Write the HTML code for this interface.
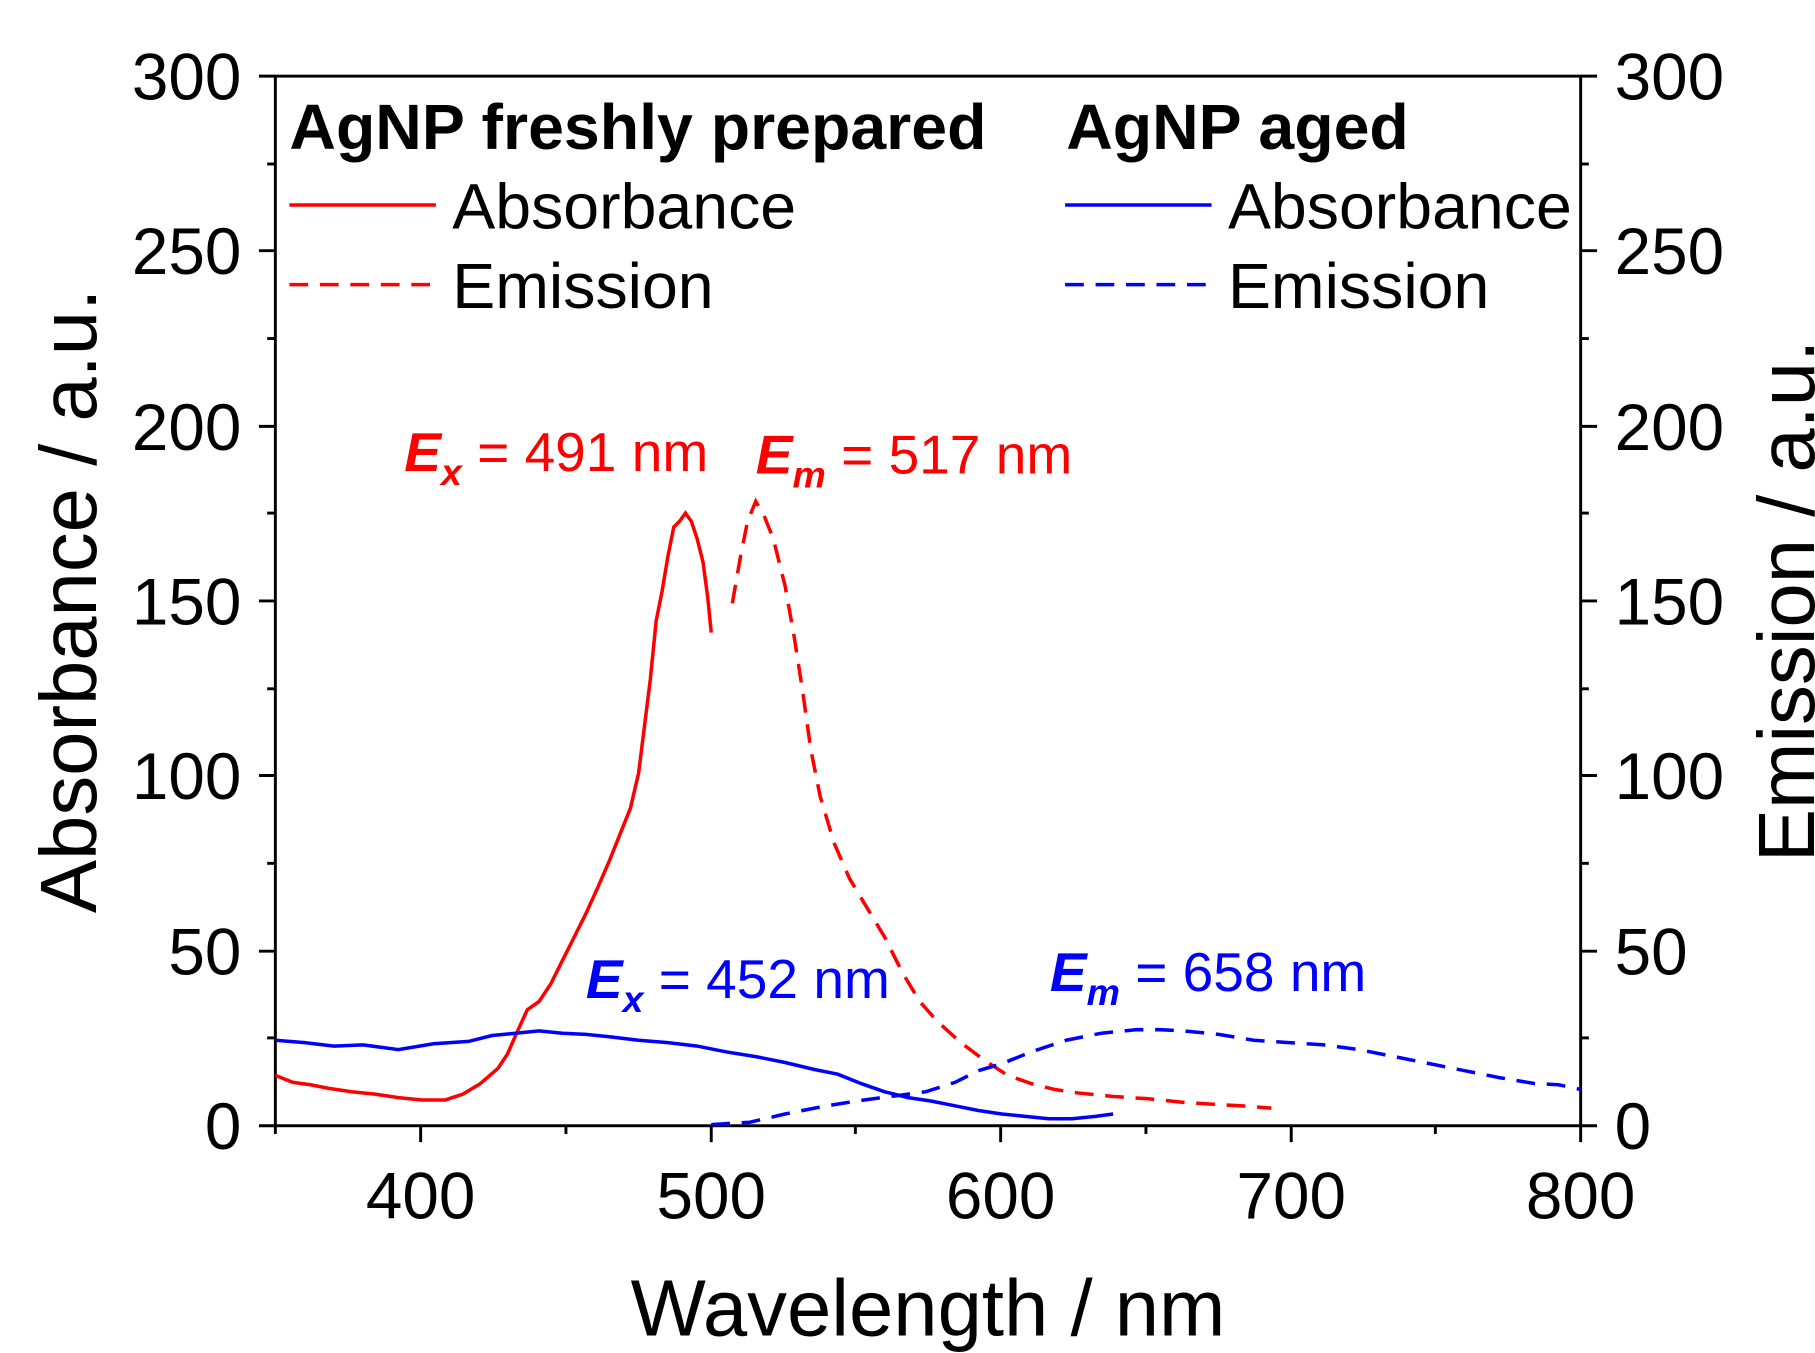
<!DOCTYPE html>
<html><head><meta charset="utf-8"><style>
html,body{margin:0;padding:0;background:#fff;}
svg{display:block;}
text{font-family:"Liberation Sans",Arial,sans-serif;}
</style></head><body>
<svg width="1815" height="1353" viewBox="0 0 1549 1155" preserveAspectRatio="none" xmlns="http://www.w3.org/2000/svg">
<rect width="1549" height="1155" fill="#fff"/>
<rect x="235" y="65" width="1114" height="896" fill="none" stroke="#000" stroke-width="2.5"/>
<g stroke="#000" stroke-width="2.5">
<line x1="221" y1="961" x2="235" y2="961"/><line x1="221" y1="812" x2="235" y2="812"/><line x1="221" y1="662" x2="235" y2="662"/><line x1="221" y1="513" x2="235" y2="513"/><line x1="221" y1="364" x2="235" y2="364"/><line x1="221" y1="214" x2="235" y2="214"/><line x1="221" y1="65" x2="235" y2="65"/>
<line x1="228" y1="886" x2="235" y2="886"/><line x1="228" y1="737" x2="235" y2="737"/><line x1="228" y1="588" x2="235" y2="588"/><line x1="228" y1="438" x2="235" y2="438"/><line x1="228" y1="289" x2="235" y2="289"/><line x1="228" y1="140" x2="235" y2="140"/>
<line x1="1349" y1="961" x2="1363" y2="961"/><line x1="1349" y1="812" x2="1363" y2="812"/><line x1="1349" y1="662" x2="1363" y2="662"/><line x1="1349" y1="513" x2="1363" y2="513"/><line x1="1349" y1="364" x2="1363" y2="364"/><line x1="1349" y1="214" x2="1363" y2="214"/><line x1="1349" y1="65" x2="1363" y2="65"/>
<line x1="1349" y1="886" x2="1356" y2="886"/><line x1="1349" y1="737" x2="1356" y2="737"/><line x1="1349" y1="588" x2="1356" y2="588"/><line x1="1349" y1="438" x2="1356" y2="438"/><line x1="1349" y1="289" x2="1356" y2="289"/><line x1="1349" y1="140" x2="1356" y2="140"/>
<line x1="359" y1="961" x2="359" y2="975"/><line x1="607" y1="961" x2="607" y2="975"/><line x1="854" y1="961" x2="854" y2="975"/><line x1="1102" y1="961" x2="1102" y2="975"/><line x1="1349" y1="961" x2="1349" y2="975"/>
<line x1="235" y1="961" x2="235" y2="968"/><line x1="483" y1="961" x2="483" y2="968"/><line x1="730" y1="961" x2="730" y2="968"/><line x1="978" y1="961" x2="978" y2="968"/><line x1="1225" y1="961" x2="1225" y2="968"/>
</g>
<g font-size="56" fill="#000">
<g text-anchor="end">
<text x="206" y="981">0</text><text x="206" y="832">50</text><text x="206" y="682">100</text><text x="206" y="533">150</text><text x="206" y="384">200</text><text x="206" y="234">250</text><text x="206" y="85">300</text>
</g>
<text x="1378" y="981">0</text><text x="1378" y="832">50</text><text x="1378" y="682">100</text><text x="1378" y="533">150</text><text x="1378" y="384">200</text><text x="1378" y="234">250</text><text x="1378" y="85">300</text>
<g text-anchor="middle">
<text x="359" y="1040">400</text><text x="607" y="1040">500</text><text x="854" y="1040">600</text><text x="1102" y="1040">700</text><text x="1349" y="1040">800</text>
</g>
</g>
<text x="792" y="1140" font-size="68" text-anchor="middle">Wavelength / nm</text>
<text transform="translate(82,513) rotate(-90)" font-size="68" text-anchor="middle">Absorbance / a.u.</text>
<text transform="translate(1548,513) rotate(-90)" font-size="68" text-anchor="middle">Emission / a.u.</text>
<text x="247" y="127" font-size="55" font-weight="bold">AgNP freshly prepared</text>
<text x="910" y="127" font-size="55" font-weight="bold">AgNP aged</text>
<line x1="247" y1="175" x2="372" y2="175" stroke="#f00" stroke-width="3"/>
<line x1="247" y1="243" x2="372" y2="243" stroke="#f00" stroke-width="3" stroke-dasharray="16,10"/>
<line x1="909" y1="175" x2="1034" y2="175" stroke="#00f" stroke-width="3"/>
<line x1="909" y1="243" x2="1034" y2="243" stroke="#00f" stroke-width="3" stroke-dasharray="16,10"/>
<g font-size="55"><text x="386" y="195">Absorbance</text><text x="386" y="263">Emission</text>
<text x="1048" y="195">Absorbance</text><text x="1048" y="263">Emission</text></g>
<g font-size="47" fill="#f00"><text x="345" y="402"><tspan font-weight="bold" font-style="italic">E</tspan><tspan font-weight="bold" font-style="italic" font-size="32" dy="12">x</tspan><tspan dy="-12"> = 491 nm</tspan></text>
<text x="645" y="404"><tspan font-weight="bold" font-style="italic">E</tspan><tspan font-weight="bold" font-style="italic" font-size="32" dy="12">m</tspan><tspan dy="-12"> = 517 nm</tspan></text></g>
<g font-size="47" fill="#00f"><text x="500" y="852"><tspan font-weight="bold" font-style="italic">E</tspan><tspan font-weight="bold" font-style="italic" font-size="32" dy="12">x</tspan><tspan dy="-12"> = 452 nm</tspan></text>
<text x="896" y="846"><tspan font-weight="bold" font-style="italic">E</tspan><tspan font-weight="bold" font-style="italic" font-size="32" dy="12">m</tspan><tspan dy="-12"> = 658 nm</tspan></text></g>
<polyline fill="none" stroke="#f00" stroke-width="3" points="235,918 250,924 265,926 280,929 300,932 320,934 340,937 360,939 380,939 395,934 410,925 425,912 433,900 440,884 450,862 460,855 470,840 480,820 490,800 500,780 510,758 520,735 530,710 538,690 545,660 550,620 555,580 560,530 565,505 570,475 575,450 580,445 585,438 590,445 595,460 600,480 604,510 607,540"/>
<polyline fill="none" stroke="#f00" stroke-width="3" stroke-dasharray="16,10" points="625,515 632,475 638,445 645,428 652,440 660,460 670,500 678,545 685,590 692,640 700,680 712,720 725,750 740,775 755,800 770,830 785,855 800,872 820,890 840,905 860,918 880,925 900,930 920,933 950,936 980,938 1010,941 1040,943 1060,944 1085,946"/>
<polyline fill="none" stroke="#00f" stroke-width="3" points="235,888 260,890 285,893 310,892 340,896 370,891 400,889 420,884 440,882 460,880 480,882 500,883 520,885 545,888 570,890 595,893 620,898 645,902 670,907 695,913 715,917 735,925 755,932 775,937 795,940 815,944 835,948 855,951 875,953 895,955 915,955 935,953 950,951"/>
<polyline fill="none" stroke="#00f" stroke-width="3" stroke-dasharray="16,10" points="607,960 640,958 670,951 700,945 730,940 760,936 790,932 815,924 835,914 855,908 880,898 910,888 940,882 970,879 990,879 1010,880 1040,883 1070,888 1100,890 1130,892 1160,896 1190,902 1220,908 1250,914 1280,920 1310,925 1330,926 1349,930"/>
</svg>
</body></html>
